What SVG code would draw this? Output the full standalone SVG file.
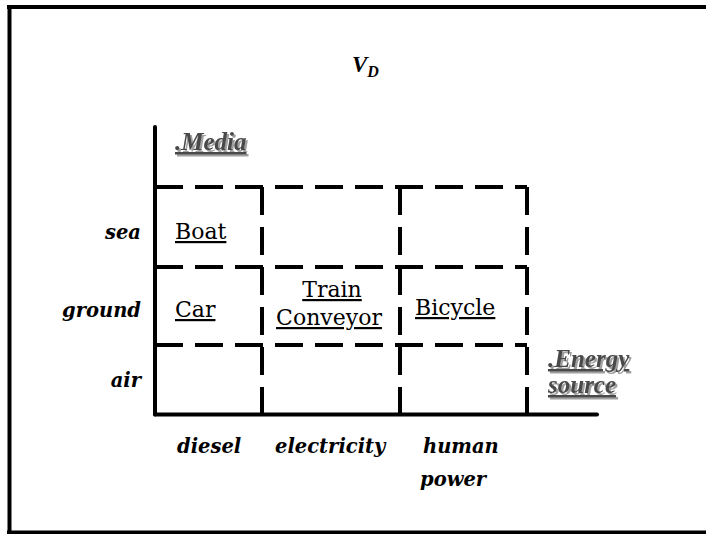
<svg xmlns="http://www.w3.org/2000/svg" width="706" height="534" viewBox="0 0 706 534">
<defs>
<filter id="shadow" x="-10%" y="-20%" width="130%" height="150%">
<feDropShadow dx="2" dy="2" stdDeviation="0.4" flood-color="#a0a0a0" flood-opacity="1"/>
</filter>
</defs>
<style>
.frame{stroke:#000;stroke-width:4;fill:none}
.axis{stroke:#000;stroke-width:4;stroke-linecap:round;fill:none}
.grid{stroke:#000;stroke-width:4;stroke-dasharray:28 12;fill:none}
.lab{font-family:"DejaVu Serif",serif;font-weight:bold;font-style:italic;font-size:19.5px;fill:#000}
.cell{font-family:"DejaVu Serif",serif;font-size:22px;fill:#000;text-decoration:underline}
.ax{font-family:"Liberation Serif",serif;font-weight:bold;font-style:italic;font-size:25px;text-decoration:underline;fill:#484848;filter:url(#shadow)}
.title{font-family:"Liberation Serif",serif;font-weight:bold;font-style:italic;fill:#000}
</style>
<g id="frame">
<line class="frame" x1="7" y1="7" x2="706" y2="7"/>
<line class="frame" x1="9.5" y1="5" x2="9.5" y2="534"/>
<line class="frame" x1="7" y1="532.5" x2="706" y2="532.5"/>
</g>
<g id="title"><text class="title" x="352" y="72" font-size="23">V<tspan font-size="16" dy="5">D</tspan></text></g>
<g id="connectors">
<line class="axis" x1="155" y1="127" x2="155" y2="414.5"/>
<line class="axis" x1="155" y1="414.5" x2="597" y2="414.5"/>
<line class="grid" x1="155" y1="187" x2="527" y2="187"/>
<line class="grid" x1="155" y1="267" x2="527" y2="267"/>
<line class="grid" x1="155" y1="345" x2="527" y2="345"/>
<line class="grid" x1="262" y1="187" x2="262" y2="414"/>
<line class="grid" x1="400" y1="187" x2="400" y2="414"/>
<line class="grid" x1="527" y1="187" x2="527" y2="414"/>
</g>
<g id="axis-media"><text class="ax" x="175" y="150">.Media</text></g>
<g id="axis-energy">
<text class="ax" x="548" y="367">.Energy</text>
<text class="ax" x="548" y="393">source</text>
</g>
<g id="row-sea"><text class="lab" x="141" y="239" text-anchor="end">sea</text></g>
<g id="row-ground"><text class="lab" x="141" y="317" text-anchor="end">ground</text></g>
<g id="row-air"><text class="lab" x="141" y="387" text-anchor="end">air</text></g>
<g id="col-diesel"><text class="lab" x="177" y="453">diesel</text></g>
<g id="col-electricity"><text class="lab" x="275" y="453">electricity</text></g>
<g id="col-human"><text class="lab" x="423" y="453">human</text><text class="lab" x="420" y="486">power</text></g>
<g id="cell-boat"><text class="cell" x="175" y="239">Boat</text></g>
<g id="cell-car"><text class="cell" x="175" y="317">Car</text></g>
<g id="cell-train"><text class="cell" x="332" y="297" text-anchor="middle">Train</text><text class="cell" x="329" y="325" text-anchor="middle">Conveyor</text></g>
<g id="cell-bicycle"><text class="cell" x="415" y="315">Bicycle</text></g>
</svg>
